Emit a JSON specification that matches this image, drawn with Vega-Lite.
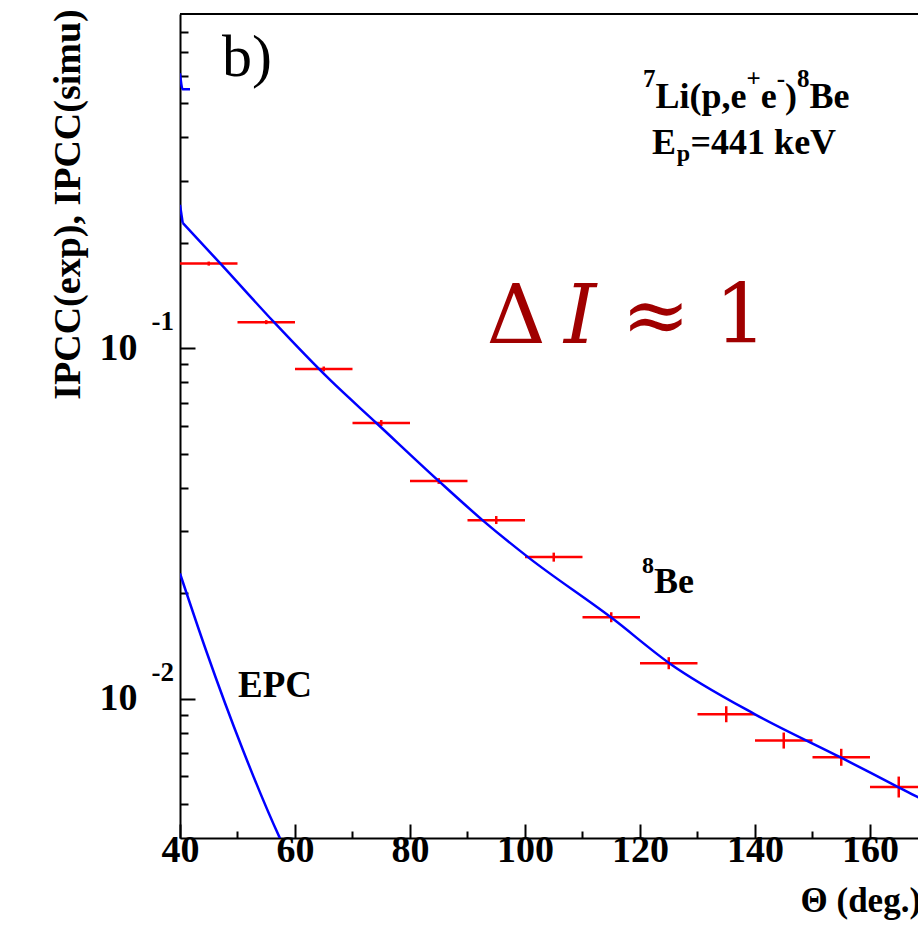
{
  "$schema": "https://vega.github.io/schema/vega-lite/v6.json",
  "width": 738,
  "height": 824,
  "autosize": {"type": "none"},
  "padding": {"left": 180, "top": 14, "right": 0, "bottom": 90},
  "background": "white",
  "datasets": {
    "exp": [
      {"theta": 45, "lo": 40, "hi": 50, "ipcc": 0.1745, "elo": 0.1722, "ehi": 0.1768},
      {"theta": 55, "lo": 50, "hi": 60, "ipcc": 0.1187, "elo": 0.1172, "ehi": 0.1203},
      {"theta": 65, "lo": 60, "hi": 70, "ipcc": 0.0873, "elo": 0.0859, "ehi": 0.0887},
      {"theta": 75, "lo": 70, "hi": 80, "ipcc": 0.0612, "elo": 0.0600, "ehi": 0.0624},
      {"theta": 85, "lo": 80, "hi": 90, "ipcc": 0.0418, "elo": 0.0410, "ehi": 0.0426},
      {"theta": 95, "lo": 90, "hi": 100, "ipcc": 0.0323, "elo": 0.0315, "ehi": 0.0332},
      {"theta": 105, "lo": 100, "hi": 110, "ipcc": 0.02535, "elo": 0.0246, "ehi": 0.0261},
      {"theta": 115, "lo": 110, "hi": 120, "ipcc": 0.01707, "elo": 0.01652, "ehi": 0.01764},
      {"theta": 125, "lo": 120, "hi": 130, "ipcc": 0.01262, "elo": 0.01213, "ehi": 0.01313},
      {"theta": 135, "lo": 130, "hi": 140, "ipcc": 0.00902, "elo": 0.00856, "ehi": 0.00951},
      {"theta": 145, "lo": 140, "hi": 150, "ipcc": 0.00759, "elo": 0.00720, "ehi": 0.00800},
      {"theta": 155, "lo": 150, "hi": 160, "ipcc": 0.0068, "elo": 0.00643, "ehi": 0.00719},
      {"theta": 165, "lo": 160, "hi": 170, "ipcc": 0.00559, "elo": 0.00522, "ehi": 0.00599}
    ],
    "sim": [
      {"series": "8Be0", "theta": 40, "ipcc": 0.2567},
      {"series": "8Be0", "theta": 40.47, "ipcc": 0.2280},
      {"series": "8Be", "theta": 40.47, "ipcc": 0.2280},
      {"series": "8Be", "theta": 47, "ipcc": 0.1747},
      {"series": "8Be", "theta": 56.35, "ipcc": 0.1187},
      {"series": "8Be", "theta": 66.1, "ipcc": 0.0812},
      {"series": "8Be", "theta": 74.2, "ipcc": 0.0611},
      {"series": "8Be", "theta": 84.93, "ipcc": 0.0419},
      {"series": "8Be", "theta": 92.75, "ipcc": 0.03217},
      {"series": "8Be", "theta": 100.58, "ipcc": 0.0253},
      {"series": "8Be", "theta": 115.07, "ipcc": 0.0170},
      {"series": "8Be", "theta": 125.1, "ipcc": 0.01262},
      {"series": "8Be", "theta": 140.0, "ipcc": 0.00902},
      {"series": "8Be", "theta": 155, "ipcc": 0.00678},
      {"series": "8Be", "theta": 164.9, "ipcc": 0.00559},
      {"series": "8Be", "theta": 168.35, "ipcc": 0.00523},
      {"series": "8Be", "theta": 175, "ipcc": 0.00465},
      {"series": "EPC", "theta": 40, "ipcc": 0.02276},
      {"series": "EPC", "theta": 44.52, "ipcc": 0.01374},
      {"series": "EPC", "theta": 50.96, "ipcc": 0.00712},
      {"series": "EPC", "theta": 57.39, "ipcc": 0.00399},
      {"series": "EPC", "theta": 58.5, "ipcc": 0.00365},
      {"series": "top", "theta": 40, "ipcc": 0.6095},
      {"series": "top", "theta": 40.47, "ipcc": 0.5485},
      {"series": "top", "theta": 41.74, "ipcc": 0.5485}
    ]
  },
  "layer": [
    {
      "data": {"name": "exp"},
      "mark": {"type": "rule", "color": "#ff0000", "strokeWidth": 2.5, "clip": true},
      "encoding": {
        "x": {
          "field": "lo", "type": "quantitative",
          "scale": {"domain": [40, 168.35], "nice": false, "zero": false},
          "axis": {
            "orient": "bottom",
            "values": [40, 45, 50, 55, 60, 65, 70, 75, 80, 85, 90, 95, 100, 105, 110, 115, 120, 125, 130, 135, 140, 145, 150, 155, 160, 165],
            "labelExpr": "datum.value % 20 == 0 ? datum.label : ''",
            "tickSize": {"condition": {"test": "datum.value % 20 == 0", "value": -14}, "value": -7},
            "labelPadding": 7,
            "labelBaseline": "top",
            "labelOverlap": false,
            "labelFlush": false,
            "title": "Θ (deg.)",
            "titleFontSize": 35,
            "titleX": 620,
            "titleY": 73,
            "titleAlign": "left",
            "titleBaseline": "alphabetic"
          }
        },
        "x2": {"field": "hi"},
        "y": {
          "field": "ipcc", "type": "quantitative",
          "scale": {"type": "log", "domain": [0.004, 0.9], "nice": false},
          "axis": {
            "orient": "left",
            "values": [0.005, 0.006, 0.007, 0.008, 0.009, 0.01, 0.02, 0.03, 0.04, 0.05, 0.06, 0.07, 0.08, 0.09, 0.1, 0.2, 0.3, 0.4, 0.5, 0.6, 0.7, 0.8],
            "labelExpr": "(datum.value == 0.1 || datum.value == 0.01) ? '10' : ''",
            "tickSize": {"condition": {"test": "datum.value == 0.1 || datum.value == 0.01", "value": -15}, "value": -8},
            "labelPadding": 58,
            "labelBaseline": "middle",
            "labelOverlap": false,
            "labelFlush": false,
            "title": "IPCC(exp), IPCC(simu)",
            "titleFontSize": 38,
            "titleAngle": -90,
            "titleX": -112,
            "titleY": 190,
            "titleAlign": "center",
            "titleBaseline": "middle"
          }
        }
      }
    },
    {
      "data": {"name": "exp"},
      "mark": {"type": "rule", "color": "#ff0000", "strokeWidth": 2.5, "clip": true},
      "encoding": {
        "x": {"field": "theta", "type": "quantitative"},
        "y": {"field": "elo", "type": "quantitative"},
        "y2": {"field": "ehi"}
      }
    },
    {
      "data": {"name": "sim"},
      "mark": {"type": "line", "color": "#0000ff", "strokeWidth": 2.5, "clip": true, "interpolate": "monotone"},
      "encoding": {
        "x": {"field": "theta", "type": "quantitative"},
        "y": {"field": "ipcc", "type": "quantitative"},
        "detail": {"field": "series"}
      }
    },
    {
      "data": {"values": [{}]},
      "mark": {"type": "rule", "color": "black", "strokeWidth": 2},
      "encoding": {"y": {"datum": 0.9}}
    },
    {
      "data": {"values": [{}]},
      "mark": {"type": "text", "text": "b)", "font": "Liberation Serif", "fontSize": 60, "align": "left", "baseline": "alphabetic", "color": "black"},
      "encoding": {"x": {"datum": 47.3}, "y": {"datum": 0.5969}}
    },
    {
      "data": {"values": [{}]},
      "mark": {"type": "text", "text": "7", "font": "Liberation Serif", "fontWeight": "bold", "fontSize": 25, "align": "left", "baseline": "alphabetic", "color": "black"},
      "encoding": {"x": {"datum": 120.52}, "y": {"datum": 0.5569}}
    },
    {
      "data": {"values": [{}]},
      "mark": {"type": "text", "text": "Li(p,e", "font": "Liberation Serif", "fontWeight": "bold", "fontSize": 36, "align": "left", "baseline": "alphabetic", "color": "black"},
      "encoding": {"x": {"datum": 122.7}, "y": {"datum": 0.4853}}
    },
    {
      "data": {"values": [{}]},
      "mark": {"type": "text", "text": "+", "font": "Liberation Serif", "fontWeight": "bold", "fontSize": 25, "align": "left", "baseline": "alphabetic", "color": "black"},
      "encoding": {"x": {"datum": 138.52}, "y": {"datum": 0.5569}}
    },
    {
      "data": {"values": [{}]},
      "mark": {"type": "text", "text": "e", "font": "Liberation Serif", "fontWeight": "bold", "fontSize": 36, "align": "left", "baseline": "alphabetic", "color": "black"},
      "encoding": {"x": {"datum": 141.0}, "y": {"datum": 0.4853}}
    },
    {
      "data": {"values": [{}]},
      "mark": {"type": "text", "text": "-", "font": "Liberation Serif", "fontWeight": "bold", "fontSize": 25, "align": "left", "baseline": "alphabetic", "color": "black"},
      "encoding": {"x": {"datum": 143.78}, "y": {"datum": 0.5569}}
    },
    {
      "data": {"values": [{}]},
      "mark": {"type": "text", "text": ")", "font": "Liberation Serif", "fontWeight": "bold", "fontSize": 36, "align": "left", "baseline": "alphabetic", "color": "black"},
      "encoding": {"x": {"datum": 145.22}, "y": {"datum": 0.4853}}
    },
    {
      "data": {"values": [{}]},
      "mark": {"type": "text", "text": "8", "font": "Liberation Serif", "fontWeight": "bold", "fontSize": 25, "align": "left", "baseline": "alphabetic", "color": "black"},
      "encoding": {"x": {"datum": 147.3}, "y": {"datum": 0.5569}}
    },
    {
      "data": {"values": [{}]},
      "mark": {"type": "text", "text": "Be", "font": "Liberation Serif", "fontWeight": "bold", "fontSize": 36, "align": "left", "baseline": "alphabetic", "color": "black"},
      "encoding": {"x": {"datum": 149.48}, "y": {"datum": 0.4853}}
    },
    {
      "data": {"values": [{}]},
      "mark": {"type": "text", "text": "E", "font": "Liberation Serif", "fontWeight": "bold", "fontSize": 36, "align": "left", "baseline": "alphabetic", "color": "black"},
      "encoding": {"x": {"datum": 122.09}, "y": {"datum": 0.3585}}
    },
    {
      "data": {"values": [{}]},
      "mark": {"type": "text", "text": "p", "font": "Liberation Serif", "fontWeight": "bold", "fontSize": 24, "align": "left", "baseline": "alphabetic", "color": "black"},
      "encoding": {"x": {"datum": 126.4}, "y": {"datum": 0.3424}}
    },
    {
      "data": {"values": [{}]},
      "mark": {"type": "text", "text": "=441 keV", "font": "Liberation Serif", "fontWeight": "bold", "fontSize": 36, "align": "left", "baseline": "alphabetic", "color": "black"},
      "encoding": {"x": {"datum": 128.8}, "y": {"datum": 0.3585}}
    },
    {
      "data": {"values": [{}]},
      "mark": {"type": "text", "text": "Δ", "font": "DejaVu Serif", "fontSize": 82, "align": "left", "baseline": "alphabetic", "color": "#a00000"},
      "encoding": {"x": {"datum": 93.3}, "y": {"datum": 0.1035}}
    },
    {
      "data": {"values": [{}]},
      "mark": {"type": "text", "text": "I", "font": "DejaVu Serif", "fontStyle": "italic", "fontSize": 82, "align": "left", "baseline": "alphabetic", "color": "#a00000"},
      "encoding": {"x": {"datum": 106.8}, "y": {"datum": 0.1035}}
    },
    {
      "data": {"values": [{}]},
      "mark": {"type": "text", "text": "≈", "font": "DejaVu Serif", "fontSize": 82, "align": "left", "baseline": "alphabetic", "color": "#a00000"},
      "encoding": {"x": {"datum": 116.8}, "y": {"datum": 0.1035}}
    },
    {
      "data": {"values": [{}]},
      "mark": {"type": "text", "text": "1", "font": "DejaVu Serif", "fontSize": 82, "align": "left", "baseline": "alphabetic", "color": "#a00000"},
      "encoding": {"x": {"datum": 133.0}, "y": {"datum": 0.1035}}
    },
    {
      "data": {"values": [{}]},
      "mark": {"type": "text", "text": "8", "font": "Liberation Serif", "fontWeight": "bold", "fontSize": 24, "align": "left", "baseline": "alphabetic", "color": "black"},
      "encoding": {"x": {"datum": 120.35}, "y": {"datum": 0.02283}}
    },
    {
      "data": {"values": [{}]},
      "mark": {"type": "text", "text": "Be", "font": "Liberation Serif", "fontWeight": "bold", "fontSize": 36, "align": "left", "baseline": "alphabetic", "color": "black"},
      "encoding": {"x": {"datum": 122.43}, "y": {"datum": 0.02001}}
    },
    {
      "data": {"values": [{}]},
      "mark": {"type": "text", "text": "EPC", "font": "Liberation Serif", "fontWeight": "bold", "fontSize": 37, "align": "left", "baseline": "alphabetic", "color": "black"},
      "encoding": {"x": {"datum": 50.09}, "y": {"datum": 0.0101}}
    },
    {
      "data": {"values": [{}]},
      "mark": {"type": "text", "text": "-1", "font": "Liberation Serif", "fontWeight": "bold", "fontSize": 27, "align": "right", "baseline": "alphabetic", "dx": -6, "dy": -18, "color": "black"},
      "encoding": {"x": {"datum": 40}, "y": {"datum": 0.1}}
    },
    {
      "data": {"values": [{}]},
      "mark": {"type": "text", "text": "-2", "font": "Liberation Serif", "fontWeight": "bold", "fontSize": 27, "align": "right", "baseline": "alphabetic", "dx": -6, "dy": -18, "color": "black"},
      "encoding": {"x": {"datum": 40}, "y": {"datum": 0.01}}
    }
  ],
  "config": {
    "view": {"stroke": null},
    "axis": {
      "grid": false,
      "domainColor": "black",
      "domainWidth": 2,
      "tickColor": "black",
      "tickWidth": 2,
      "labelFont": "Liberation Serif",
      "labelFontWeight": "bold",
      "labelFontSize": 38,
      "labelColor": "black",
      "titleFont": "Liberation Serif",
      "titleFontWeight": "bold",
      "titleColor": "black"
    }
  }
}
